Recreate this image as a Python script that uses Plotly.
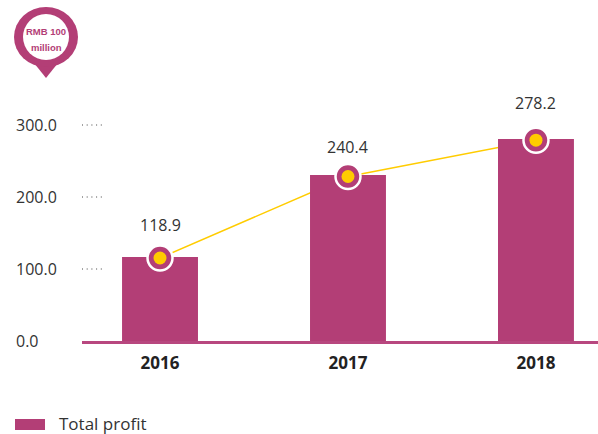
import plotly.graph_objects as go

years = ["2016", "2017", "2018"]
value_labels = ["118.9", "240.4", "278.2"]
# Heights as drawn in the picture (the source artwork is not strictly to scale)
bar_heights = [116.7, 230.6, 280.6]
point_heights = [115.3, 228.5, 278.9]
y_tick_values = [0, 100, 200, 300]
y_tick_labels = ["0.0", "100.0", "200.0", "300.0"]
legend_label = "Total profit"
unit_lines = ["RMB 100", "million"]

W, H = 598, 434
L, B = 82, 93
PLOT_H = H - B
BAR = "#b33e76"
YEL = "#ffcc00"
TXT = "#333333"
FONT = "Open Sans"


def px(x):
    return (x - L) / (W - L)


def py(y):
    return (PLOT_H - y) / PLOT_H


fig = go.Figure()
fig.add_trace(go.Scatter(x=years, y=point_heights, mode="lines",
                         line=dict(color=YEL, width=1.5), showlegend=False,
                         xaxis="x", yaxis="y"))
fig.add_trace(go.Bar(x=years, y=bar_heights, marker=dict(color=BAR, line=dict(width=0)),
                     showlegend=False, xaxis="x", yaxis="y2"))
fig.add_trace(go.Scatter(x=years, y=point_heights, mode="markers",
                         marker=dict(color=BAR, size=25, line=dict(color="white", width=2.5)),
                         showlegend=False, xaxis="x", yaxis="y2", cliponaxis=False))
fig.add_trace(go.Scatter(x=years, y=point_heights, mode="markers",
                         marker=dict(color=YEL, size=13, line=dict(width=0)),
                         showlegend=False, xaxis="x", yaxis="y2", cliponaxis=False))

shapes = []
annotations = []

for i, (lab, ph, shift) in enumerate(zip(value_labels, point_heights, [33, 29, 37])):
    annotations.append(dict(x=i, y=ph, xref="x", yref="y2", text=lab, showarrow=False,
                            yshift=shift, xanchor="center", yanchor="middle",
                            font=dict(family=FONT, size=16, color=TXT)))

for v, lab in zip(y_tick_values, y_tick_labels):
    annotations.append(dict(x=px(14), y=v, xref="paper", yref="y2", text=lab, showarrow=False,
                            xanchor="left", yanchor="middle",
                            font=dict(family=FONT, size=16, color=TXT)))
    if v > 0:
        shapes.append(dict(type="line", xref="paper", yref="y2", x0=px(82), x1=px(103),
                           y0=v, y1=v, line=dict(color="#444444", width=1, dash="1px,3.7px")))

# Unit pin
shapes.append(dict(type="path", xref="paper", yref="paper",
                   path=f"M {px(30)} {py(58)} L {px(46)} {py(78)} L {px(62)} {py(58)} Z",
                   fillcolor=BAR, line=dict(width=0)))
shapes.append(dict(type="circle", xref="paper", yref="paper", x0=px(14), x1=px(78),
                   y0=py(7), y1=py(67), fillcolor=BAR, line=dict(width=0)))
shapes.append(dict(type="circle", xref="paper", yref="paper", x0=px(23), x1=px(69),
                   y0=py(14), y1=py(60), fillcolor="white", line=dict(width=0)))
for line_text, line_y in zip(unit_lines, [31, 48]):
    annotations.append(dict(x=px(46), y=py(line_y), xref="paper", yref="paper",
                            text="<b>" + line_text + "</b>",
                            showarrow=False, xanchor="center", yanchor="middle",
                            font=dict(family="Liberation Sans", size=9.5, color=BAR)))

# Legend
shapes.append(dict(type="rect", xref="paper", yref="paper", x0=px(15), x1=px(45),
                   y0=py(419), y1=py(430), fillcolor=BAR, line=dict(width=0)))
annotations.append(dict(x=px(57), y=py(423), xref="paper", yref="paper", text=legend_label,
                        showarrow=False, xanchor="left", yanchor="middle",
                        font=dict(family=FONT, size=17, color=TXT)))

y_range = [0, PLOT_H / 0.72]
fig.update_layout(
    width=W, height=H, margin=dict(l=L, r=0, t=0, b=B, pad=0),
    paper_bgcolor="white", plot_bgcolor="white", showlegend=False,
    bargap=0.596, shapes=shapes, annotations=annotations,
    xaxis=dict(type="category", range=[-0.415, 2.33], showgrid=False, zeroline=False,
               showline=True, linecolor="#b8477f", linewidth=3, ticks="", ticklen=0,
               ticklabelstandoff=5,
               tickfont=dict(family=FONT, size=17, color="#222222", weight="bold")),
    yaxis=dict(range=y_range, visible=False, fixedrange=True),
    yaxis2=dict(range=y_range, visible=False, overlaying="y", fixedrange=True),
)
fig.write_html("out.html", post_script="document.body.style.margin='0';",
               config={"displayModeBar": False})
